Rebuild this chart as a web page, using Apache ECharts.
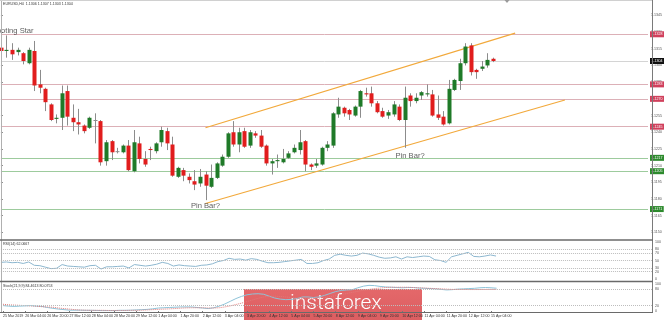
<!DOCTYPE html>
<html>
<head>
<meta charset="utf-8">
<script src="https://cdn.jsdelivr.net/npm/echarts@6/dist/echarts.min.js"></script>
<style>
  html, body { margin: 0; padding: 0; background: #fff; }
  #chart { width: 665px; height: 320px; }
</style>
</head>
<body>
<div id="chart"></div>
<script>
// EURUSD H4 candles, first visible bar is 25 Mar 12:00
const open  = [1.1316,1.1313,1.1314,1.1312,1.1311,1.1302,1.1313,1.1283,1.1279,1.1265,
               1.1252,1.1253,1.1277,1.1253,1.1249,1.1246,1.1244,1.1251,1.1250,1.1214,
               1.1232,1.1223,1.1222,1.1228,1.1205,1.1230,1.1216,1.1225,1.1223,1.1231,
               1.1241,1.1229,1.1200,1.1206,1.1200,1.1196,1.1194,1.1202,1.1191,1.1199,
               1.1210,1.1218,1.1240,1.1229,1.1241,1.1228,1.1239,1.1237,1.1228,1.1212,
               1.1214,1.1213,1.1217,1.1222,1.1224,1.1232,1.1211,1.1210,1.1211,1.1226,
               1.1228,1.1256,1.1262,1.1260,1.1255,1.1263,1.1275,1.1275,1.1266,1.1259,
               1.1255,1.1256,1.1263,1.1251,1.1273,1.1268,1.1273,1.1274,1.1274,1.1256,
               1.1254,1.1248,1.1278,1.1286,1.1302,1.1318,1.1296,1.1297,1.1300,1.1306];
const close = [1.1313,1.1314,1.1310,1.1314,1.1304,1.1314,1.1282,1.1280,1.1267,1.1251,
               1.1253,1.1275,1.1254,1.1249,1.1247,1.1241,1.1253,1.1251,1.1213,1.1231,
               1.1222,1.1223,1.1228,1.1206,1.1231,1.1216,1.1211,1.1224,1.1230,1.1242,
               1.1230,1.1201,1.1208,1.1201,1.1197,1.1193,1.1200,1.1192,1.1199,1.1212,
               1.1218,1.1239,1.1229,1.1240,1.1227,1.1240,1.1237,1.1227,1.1212,1.1214,
               1.1215,1.1216,1.1221,1.1226,1.1231,1.1211,1.1209,1.1212,1.1226,1.1229,
               1.1257,1.1263,1.1257,1.1256,1.1263,1.1277,1.1274,1.1266,1.1258,1.1254,
               1.1258,1.1265,1.1251,1.1271,1.1268,1.1271,1.1276,1.1275,1.1255,1.1253,
               1.1247,1.1279,1.1287,1.1302,1.1317,1.1294,1.1294,1.1299,1.1305,1.1304];
const low   = [1.1300,1.1307,1.1305,1.1309,1.1301,1.1301,1.1277,1.1275,1.1259,1.1250,
               1.1248,1.1242,1.1246,1.1241,1.1238,1.1239,1.1243,1.1230,1.1210,1.1210,
               1.1215,1.1221,1.1221,1.1205,1.1204,1.1212,1.1209,1.1215,1.1221,1.1227,
               1.1224,1.1200,1.1199,1.1196,1.1194,1.1188,1.1191,1.1179,1.1190,1.1198,
               1.1209,1.1217,1.1227,1.1222,1.1226,1.1226,1.1235,1.1226,1.1210,1.1202,
               1.1208,1.1212,1.1216,1.1221,1.1220,1.1205,1.1206,1.1208,1.1210,1.1223,
               1.1226,1.1253,1.1254,1.1251,1.1254,1.1253,1.1272,1.1263,1.1257,1.1253,
               1.1252,1.1254,1.1250,1.1226,1.1263,1.1266,1.1269,1.1272,1.1254,1.1251,
               1.1246,1.1247,1.1277,1.1278,1.1300,1.1291,1.1288,1.1295,1.1298,1.1303];
const high  = [1.1325,1.1327,1.1320,1.1316,1.1312,1.1316,1.1322,1.1296,1.1280,1.1266,
               1.1256,1.1282,1.1282,1.1265,1.1261,1.1247,1.1254,1.1257,1.1251,1.1233,
               1.1233,1.1226,1.1229,1.1233,1.1242,1.1236,1.1223,1.1227,1.1231,1.1245,
               1.1244,1.1236,1.1209,1.1208,1.1203,1.1206,1.1207,1.1205,1.1211,1.1213,
               1.1220,1.1240,1.1250,1.1244,1.1244,1.1242,1.1241,1.1242,1.1229,1.1216,
               1.1220,1.1225,1.1223,1.1229,1.1242,1.1233,1.1212,1.1216,1.1227,1.1232,
               1.1258,1.1271,1.1263,1.1261,1.1264,1.1278,1.1280,1.1281,1.1268,1.1262,
               1.1260,1.1268,1.1265,1.1281,1.1275,1.1275,1.1277,1.1283,1.1278,1.1273,
               1.1259,1.1287,1.1288,1.1306,1.1320,1.1320,1.1297,1.1304,1.1311,1.1307];

// RSI(14)
const rsi = [45,46,44,45,42,46,37,36,32,28,
             29,39,35,34,33,32,36,37,27,33,
             33,34,35,30,39,37,35,37,40,45,
             42,35,38,36,35,34,37,38,41,47,
             50,56,53,54,51,55,53,48,44,44,
             45,47,49,51,53,42,42,44,50,54,
             64,67,64,62,64,70,68,64,59,56,
             57,60,54,60,58,60,62,61,52,50,
             45,60,64,68,72,61,60,62,65,62.0667];

// Stochastic oscillator: main and signal lines
const stochMain = [20,18,17,18,19,20,18,17,13,10,
                   7,5,3,3,3,2.5,2.5,2,1.5,1.5,
                   1.5,2.5,2.5,3,4,5,6,8,11,12,
                   13,14,15,15,15,13,11,9,12,18,
                   26,36,46,54,60,63,64,62,55,48,
                   44,42,43,46,52,52,50,52,58,65,
                   72,76,78,79,86,92,95,94,91,89,
                   88,87,86,87,87,85,84,83,82,80,
                   78,79,81,82,83,84,86,87,86,84.4613];
const stochSignal = [25,23,22,21,20,19,18,16,15,14,
                     11,9,7,5,3.5,3,2.5,2.5,2.5,2,
                     2,2,2,2.5,2.5,3,4,5,6,7,
                     8,9,10.5,11.5,12,12,12,11,11,12,
                     15,19,24,29,35,41,47,52,55,55,
                     54,52,50,48,47,47,47,48,50,53,
                     57,61,65,69,73,77,80,83,85,87,
                     88,88,88,88,87,86,85,84,83,82,
                     81,80,80,80,79.5,79.5,79.5,80,80,80.0753];

// Time axis
const days  = ['25 Mar','26 Mar','27 Mar','28 Mar','29 Mar','1 Apr','2 Apr','3 Apr',
               '4 Apr','5 Apr','8 Apr','9 Apr','10 Apr','11 Apr','12 Apr','15 Apr'];
const hours = ['00:00','04:00','08:00','12:00','16:00','20:00'];
const firstSlot = 3;
const firstLabel = '25 Mar 2019';

// Price scale ticks and horizontal levels
const priceTicks = [1.1150,1.1165,1.1180,1.1195,1.1210,1.1225,1.1240,1.1255,
                    1.1270,1.1285,1.1300,1.1315,1.1330,1.1345];
const resistanceLevels = [1.1328, 1.1283, 1.1270, 1.1245];
const supportLevels = [1.1217, 1.1205, 1.1171];

// Trend channel: [bar, price] end points
const channelUpper = [[37, 1.1244], [93, 1.1329]];
const channelLower = [[37, 1.1176], [102, 1.1269]];

// Text notes: [bar, price, text]
const notes = [[6, 1.1331, 'Shooting Star'], [37, 1.1174, 'Pin Bar?'], [74, 1.1219, 'Pin Bar?']];

const rsiLevels = [20, 30, 50, 70, 80];
const stochLevels = [20, 80];

const UP = '#1f7a28', DOWN = '#e11d1d', DOJI = '#8c8c8c', WICK = '#8c8c8c';
const FONT = 'Liberation Sans, Arial, sans-serif';

const n = open.length;
const last = n - 1;
function barTime(k) {
  if (k === 0) return firstLabel;
  const i = k + firstSlot;
  return days[Math.floor(i / 6)] + ' ' + hours[i % 6];
}
const timeTicks = [];
for (let k = 0; k < n; k += 4) timeTicks.push(k);

const candles = open.map((o, i) => [i, o, close[i], low[i], high[i]]);

function renderCandle(params, api) {
  const k = api.value(0);
  const o = api.value(1), c = api.value(2), l = api.value(3), h = api.value(4);
  const po = api.coord([k, o]), pc = api.coord([k, c]);
  const pl = api.coord([k, l]), ph = api.coord([k, h]);
  const x = Math.round(po[0]);
  let top = Math.min(po[1], pc[1]);
  let bot = Math.max(po[1], pc[1]);
  if (bot - top < 1) bot = top + 1;
  const color = c > o ? UP : (c < o ? DOWN : DOJI);
  return {
    type: 'group',
    children: [
      { type: 'line', shape: { x1: x + 0.5, y1: ph[1], x2: x + 0.5, y2: pl[1] },
        style: { stroke: WICK, lineWidth: 1 } },
      { type: 'rect', shape: { x: x - 1.5, y: top, width: 4, height: bot - top },
        style: { fill: color } }
    ]
  };
}

const X_MIN = 0, X_MAX = 117.03;

function xAxisFor(i) {
  const base = { type: 'value', gridIndex: i, min: X_MIN, max: X_MAX,
                 splitLine: { show: false }, axisLine: { show: false } };
  if (i < 2) return Object.assign(base, { axisLabel: { show: false }, axisTick: { show: false } });
  return Object.assign(base, {
    axisTick: { show: true, customValues: timeTicks, length: 2, lineStyle: { color: '#777' } },
    axisLabel: { show: true, customValues: timeTicks, formatter: v => barTime(Math.round(v)),
                 fontSize: 3.6, color: '#333', align: 'left', margin: 3, fontFamily: FONT,
                 showMinLabel: true }
  });
}

function levelLine(price, lineColor, boxColor) {
  return {
    yAxis: price,
    lineStyle: { color: lineColor, width: 1, type: 'solid' },
    label: { show: true, position: 'end', distance: 2, formatter: p => Number(p.value).toFixed(4),
             color: '#fff', fontSize: 3.6, fontFamily: FONT, backgroundColor: boxColor, padding: [1, 1.5] }
  };
}

const levelData = [
  ...resistanceLevels.map(p => levelLine(p, '#dcb0b7', '#d0405c')),
  ...supportLevels.map(p => levelLine(p, '#9dcb9d', '#2d8a2d')),
  levelLine(close[last], '#d4d4d4', '#111')
];

const chart = echarts.init(document.getElementById('chart'), null, { renderer: 'canvas' });
chart.setOption({
  animation: false,
  backgroundColor: '#fff',
  textStyle: { fontFamily: FONT },
  grid: [
    { left: 0.93, right: 13, top: 2, height: 236 },
    { left: 0.93, right: 13, top: 242, height: 37 },
    { left: 0.93, right: 13, top: 284, height: 27 }
  ],
  xAxis: [xAxisFor(0), xAxisFor(1), xAxisFor(2)],
  yAxis: [
    { type: 'value', gridIndex: 0, position: 'right', min: 1.1145, max: 1.1357, scale: true,
      splitLine: { show: false }, axisLine: { show: false },
      axisTick: { show: true, customValues: priceTicks, length: 2, lineStyle: { color: '#888' } },
      axisLabel: { customValues: priceTicks, formatter: v => v.toFixed(4), fontSize: 3.6,
                   color: '#555', margin: 3, fontFamily: FONT } },
    { type: 'value', gridIndex: 1, position: 'right', min: 0, max: 100,
      splitLine: { show: false }, axisLine: { show: false }, axisTick: { show: false },
      axisLabel: { customValues: [0, 20, 30, 50, 70, 80, 100], fontSize: 3.6, color: '#555', margin: 3 } },
    { type: 'value', gridIndex: 2, position: 'right', min: 0, max: 100,
      splitLine: { show: false }, axisLine: { show: false }, axisTick: { show: false },
      axisLabel: { customValues: [0, 20, 80, 100], fontSize: 3.6, color: '#555', margin: 3 } }
  ],
  series: [
    {
      name: 'Upper channel', type: 'line', xAxisIndex: 0, yAxisIndex: 0,
      data: channelUpper, symbol: 'none', silent: true, z: 3,
      lineStyle: { color: '#f2a93b', width: 1.2 },
      markLine: { silent: true, symbol: 'none', precision: 4, data: levelData, z: 1 }
    },
    {
      name: 'Lower channel', type: 'line', xAxisIndex: 0, yAxisIndex: 0,
      data: channelLower, symbol: 'none', silent: true, z: 3,
      lineStyle: { color: '#f2a93b', width: 1.2 }
    },
    {
      name: 'EURUSD', type: 'custom', xAxisIndex: 0, yAxisIndex: 0,
      renderItem: renderCandle, data: candles, encode: { x: 0, y: [1, 2, 3, 4] }, z: 4
    },
    {
      name: 'Notes', type: 'scatter', xAxisIndex: 0, yAxisIndex: 0, symbolSize: 1, z: 5,
      itemStyle: { color: 'rgba(0,0,0,0)' },
      data: notes.map(d => ({ value: [d[0], d[1]], name: d[2],
        label: { position: d[2] === 'Shooting Star' ? 'left' : 'inside', distance: 0 } })),
      label: { show: true, formatter: '{b}', fontSize: 7.6, color: '#333', fontFamily: FONT }
    },
    {
      name: 'RSI', type: 'line', xAxisIndex: 1, yAxisIndex: 1, symbol: 'none',
      data: rsi.map((v, i) => [i, v]), lineStyle: { color: '#8db7cf', width: 1 },
      markLine: { silent: true, symbol: 'none', label: { show: false },
        lineStyle: { color: '#bdbdbd', type: 'dotted', width: 1 },
        data: rsiLevels.map(v => ({ yAxis: v })) }
    },
    {
      name: 'Stoch main', type: 'line', xAxisIndex: 2, yAxisIndex: 2, symbol: 'none',
      data: stochMain.map((v, i) => [i, v]), lineStyle: { color: '#8ec3d8', width: 1 },
      markLine: { silent: true, symbol: 'none', label: { show: false },
        lineStyle: { color: '#bdbdbd', type: 'dotted', width: 1 },
        data: stochLevels.map(v => ({ yAxis: v })) }
    },
    {
      name: 'Stoch signal', type: 'line', xAxisIndex: 2, yAxisIndex: 2, symbol: 'none',
      data: stochSignal.map((v, i) => [i, v]), lineStyle: { color: '#e07a7a', width: 1, type: 'dotted' }
    }
  ],
  graphic: [
    // panel frames
    { type: 'line', shape: { x1: 1.5, y1: 0, x2: 1.5, y2: 313 }, style: { stroke: '#b0b0b0', lineWidth: 1 }, z: 50 },
    { type: 'line', shape: { x1: 0, y1: 0.5, x2: 652, y2: 0.5 }, style: { stroke: '#d0d0d0', lineWidth: 1 }, z: 50 },
    { type: 'line', shape: { x1: 652.5, y1: 0, x2: 652.5, y2: 313 }, style: { stroke: '#7a7a7a', lineWidth: 1 }, z: 50 },
    { type: 'line', shape: { x1: 0, y1: 240, x2: 653, y2: 240 }, style: { stroke: '#6a6a6a', lineWidth: 1.6 }, z: 50 },
    { type: 'line', shape: { x1: 0, y1: 281.5, x2: 653, y2: 281.5 }, style: { stroke: '#6a6a6a', lineWidth: 1.6 }, z: 50 },
    { type: 'line', shape: { x1: 0, y1: 312.5, x2: 653, y2: 312.5 }, style: { stroke: '#6a6a6a', lineWidth: 1.2 }, z: 50 },
    // chart shift marker
    { type: 'polygon', shape: { points: [[504.5, 0], [509.5, 0], [507, 3]] }, style: { fill: '#9a9a9a' }, z: 50 },
    // panel titles
    { type: 'text', x: 3, y: 4, z: 50,
      style: { text: 'EURUSD,H4  ' + [open[last], high[last], low[last], close[last]].map(v => v.toFixed(4)).join(' '),
               fontSize: 3.6, fill: '#333', fontFamily: FONT, verticalAlign: 'middle' } },
    { type: 'text', x: 3, y: 243.5, z: 50,
      style: { text: 'RSI(14) ' + rsi[last].toFixed(4), fontSize: 3.6, fill: '#333', fontFamily: FONT, verticalAlign: 'middle' } },
    { type: 'text', x: 3, y: 285.5, z: 50,
      style: { text: 'Stoch(21,9,9) ' + stochMain[last].toFixed(4) + ' ' + stochSignal[last].toFixed(4),
               fontSize: 3.6, fill: '#333', fontFamily: FONT, verticalAlign: 'middle' } },
    // brand badge
    { type: 'group', z: 100, children: [
      { type: 'rect', shape: { x: 244, y: 289, width: 178, height: 31 },
        style: { fill: new echarts.graphic.LinearGradient(0, 0, 0, 1, [
          { offset: 0, color: '#e4686a' }, { offset: 1, color: '#dc5e61' }]) } },
      { type: 'text', x: 290, y: 304,
        style: { text: 'instaforex', fontSize: 21, fontWeight: 300, fontFamily: 'Roboto, Lato, sans-serif',
                 fill: '#fff', verticalAlign: 'middle' } }
    ] }
  ]
});
</script>
</body>
</html>
